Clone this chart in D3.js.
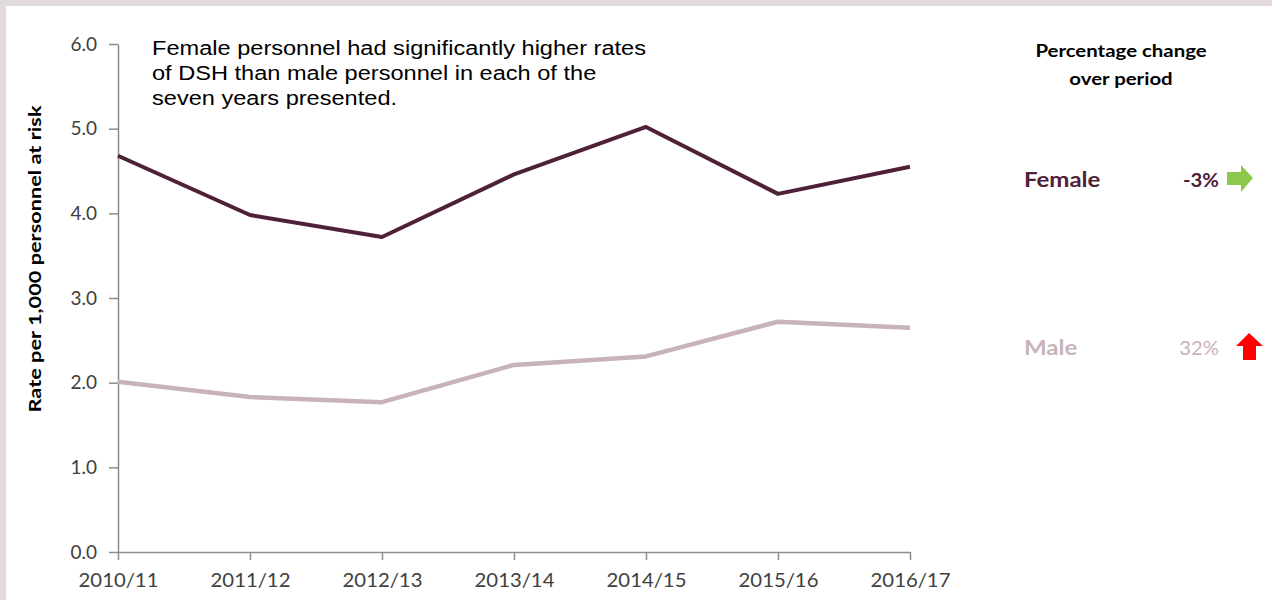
<!DOCTYPE html>
<html>
<head>
<meta charset="utf-8">
<script src="https://cdn.jsdelivr.net/npm/d3@7"></script>
<style>
    html, body { margin: 0; padding: 0; background: #e2d9dc; }
    #chart { width: 1272px; height: 600px; }
</style>
</head>
<body>
<div id="chart"></div>
<script>
// Chart data
const years = ['2010/11', '2011/12', '2012/13', '2013/14', '2014/15', '2015/16', '2016/17'];
const femaleRates = [4.68, 3.98, 3.72, 4.46, 5.02, 4.23, 4.55];
const maleRates = [2.01, 1.83, 1.77, 2.21, 2.31, 2.72, 2.65];
const yTicks = [0, 1, 2, 3, 4, 5, 6];
const seriesNames = ['Female', 'Male'];
const periodChanges = ['-3%', '32%'];
const changeDirections = ['flat', 'up'];
const noteLines = [
    'Female personnel had significantly higher rates',
    'of DSH than male personnel in each of the',
    'seven years presented.'
];

document.addEventListener('DOMContentLoaded', function() {
    const width = 1272;
    const height = 600;
    const margin = { top: 44, right: 362, bottom: 48, left: 118 };
    const innerWidth = width - margin.left - margin.right;
    const innerHeight = height - margin.top - margin.bottom;

    const femaleColor = '#4f2139';
    const maleColor = '#c9b3ba';
    const axisColor = '#8c8c8c';
    const tickTextColor = '#404040';
    // the source picture is a bit wider than tall, text looks stretched
    const textStretch = 1.2;

    const root = d3.select('#chart').append('svg')
        .attr('width', width)
        .attr('height', height);

    // Frame and white panel
    root.append('rect')
        .attr('width', width)
        .attr('height', height)
        .attr('fill', '#e2d9dc');
    root.append('rect')
        .attr('x', 6)
        .attr('y', 6)
        .attr('width', width - 6)
        .attr('height', height - 6)
        .attr('fill', '#ffffff');

    const svg = root.append('g')
        .attr('transform', `translate(${margin.left},${margin.top})`);

    // Scales
    const xScale = d3.scalePoint()
        .domain(years)
        .range([0, innerWidth])
        .padding(0);

    const yScale = d3.scaleLinear()
        .domain([0, 6])
        .range([innerHeight, 0]);

    // Axes
    const yAxis = d3.axisLeft(yScale)
        .tickValues(yTicks)
        .tickFormat(d3.format('.1f'))
        .tickSize(9)
        .tickSizeOuter(0)
        .tickPadding(12);

    const yAxisG = svg.append('g')
        .attr('class', 'y-axis')
        .call(yAxis);
    yAxisG.select('.domain').attr('stroke', axisColor).attr('stroke-width', 1.5);
    yAxisG.selectAll('.tick line').attr('stroke', axisColor).attr('stroke-width', 1.5);
    yAxisG.selectAll('text')
        .style('font-family', 'Lato, sans-serif')
        .style('font-size', '19px')
        .style('fill', tickTextColor);

    const xAxis = d3.axisBottom(xScale)
        .tickSize(8)
        .tickSizeOuter(0)
        .tickPadding(14);

    const xAxisG = svg.append('g')
        .attr('class', 'x-axis')
        .attr('transform', `translate(0,${innerHeight})`)
        .call(xAxis);
    xAxisG.select('.domain').attr('stroke', axisColor).attr('stroke-width', 1.5);
    xAxisG.selectAll('.tick line').attr('stroke', axisColor).attr('stroke-width', 1.5);
    xAxisG.selectAll('text')
        .attr('transform', 'scale(1.07,1)')
        .style('font-family', 'Lato, sans-serif')
        .style('font-size', '19px')
        .style('fill', tickTextColor);

    // Lines
    const line = d3.line()
        .x((d, i) => xScale(years[i]))
        .y(d => yScale(d));

    svg.append('path')
        .datum(maleRates)
        .attr('d', line)
        .attr('fill', 'none')
        .attr('stroke', maleColor)
        .attr('stroke-width', 4.5)
        .attr('stroke-linejoin', 'round');

    svg.append('path')
        .datum(femaleRates)
        .attr('d', line)
        .attr('fill', 'none')
        .attr('stroke', femaleColor)
        .attr('stroke-width', 4)
        .attr('stroke-linejoin', 'round');

    // Y axis label
    root.append('text')
        .attr('transform', 'translate(41,259) rotate(-90)')
        .attr('text-anchor', 'middle')
        .attr('textLength', 307)
        .attr('lengthAdjust', 'spacingAndGlyphs')
        .style('font-family', 'Lato, sans-serif')
        .style('font-size', '17px')
        .style('font-weight', 'bold')
        .style('fill', '#000000')
        .text('Rate per 1,000 personnel at risk');

    // Annotation
    const note = root.append('g')
        .attr('transform', `translate(152,55) scale(${textStretch + 0.01},1)`)
        .append('text')
        .style('font-family', '"Liberation Sans", Arial, sans-serif')
        .style('font-size', '19.5px')
        .style('fill', '#000000');
    noteLines.forEach((t, i) => {
        note.append('tspan')
            .attr('x', 0)
            .attr('dy', i === 0 ? 0 : 25)
            .text(t);
    });

    // Legend heading
    const heading = root.append('g')
        .attr('transform', `translate(1121,57) scale(${textStretch},1)`)
        .append('text')
        .attr('text-anchor', 'middle')
        .style('font-family', 'Lato, sans-serif')
        .style('font-size', '17px')
        .style('font-weight', 'bold')
        .style('fill', '#000000');
    heading.append('tspan').attr('x', 0).attr('dy', 0).text('Percentage change');
    heading.append('tspan').attr('x', 0).attr('dy', 28).text('over period');

    // Legend rows
    const rowY = [187, 355];
    const rowColors = [femaleColor, maleColor];

    seriesNames.forEach((name, i) => {
        root.append('g')
            .attr('transform', `translate(1024,${rowY[i]}) scale(${textStretch},1)`)
            .append('text')
            .style('font-family', 'Lato, sans-serif')
            .style('font-size', '20px')
            .style('font-weight', 'bold')
            .style('fill', rowColors[i])
            .text(name);

        root.append('g')
            .attr('transform', `translate(1219,${rowY[i]}) scale(1.07,1)`)
            .append('text')
            .attr('text-anchor', 'end')
            .style('font-family', 'Lato, sans-serif')
            .style('font-size', '19px')
            .style('font-weight', i === 0 ? 'bold' : 'normal')
            .style('fill', rowColors[i])
            .text(periodChanges[i]);

        const g = root.append('g');
        if (changeDirections[i] === 'flat') {
            // green arrow pointing right
            g.attr('transform', `translate(1227,${rowY[i] - 22})`)
                .append('path')
                .attr('d', 'M0,7 L14,7 L14,0 L26,13 L14,27 L14,20 L0,20 Z')
                .attr('fill', '#8cc84b');
        } else {
            // red arrow pointing up
            g.attr('transform', `translate(1236,${rowY[i] - 22})`)
                .append('path')
                .attr('d', 'M13,0 L27,13 L20,13 L20,27 L7,27 L7,13 L0,13 Z')
                .attr('fill', '#ff0000');
        }
    });
});
</script>
</body>
</html>
